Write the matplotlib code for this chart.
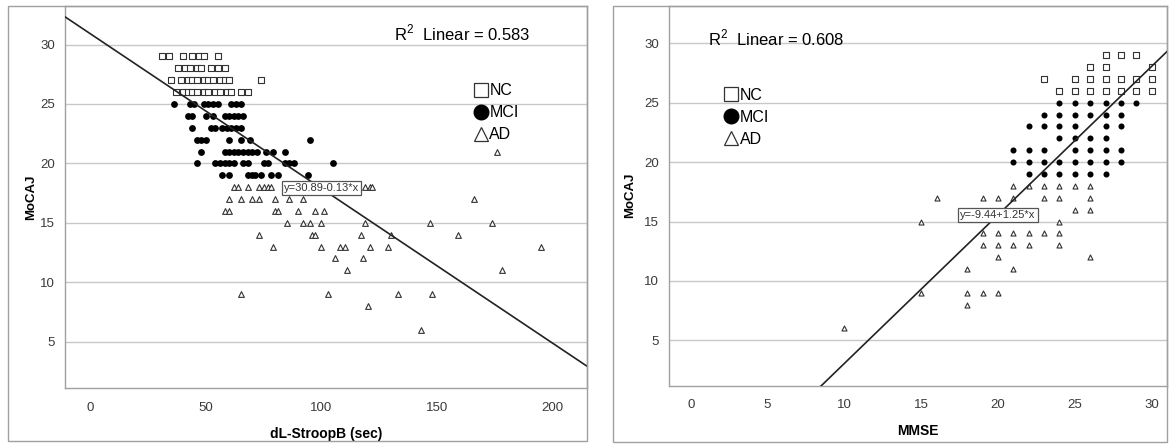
import numpy as np
import matplotlib.pyplot as plt
from matplotlib.lines import Line2D
from matplotlib.patches import Rectangle

plt.rcParams['font.family'] = ['Liberation Sans', 'DejaVu Sans']
plt.rcParams['mathtext.fontset'] = 'custom'
plt.rcParams['mathtext.rm'] = 'Liberation Sans'

W, H = 1169, 445

# MoCAJ score -> dL-StroopB times (sec) of subjects with that score
stroop_nc = {
    29: [31, 34, 40, 44, 47, 49, 55],
    28: [38, 41, 43, 46, 48, 52, 55, 58],
    27: [35, 39, 42, 44, 46, 49, 51, 53, 56, 58, 60, 74],
    26: [37, 40, 42, 44, 46, 49, 51, 54, 56, 59, 61, 65, 68],
}
stroop_mci = {
    25: [36, 43, 45, 49, 51, 53, 55, 61, 63, 65],
    24: [42, 44, 50, 53, 58, 60, 62, 64, 66],
    23: [44, 52, 54, 57, 59, 61, 63, 65],
    22: [46, 48, 50, 60, 65, 69, 95],
    21: [48, 58, 60, 62, 64, 66, 68, 70, 72, 76, 79, 84],
    20: [46, 54, 56, 58, 60, 62, 66, 68, 75, 77, 84, 86, 88, 105],
    19: [57, 60, 68, 70, 71, 74, 78, 81, 94],
}
stroop_ad = {
    21: [176],
    18: [62, 64, 68, 73, 75, 77, 78, 119, 121, 122],
    17: [60, 65, 70, 73, 80, 86, 92, 166],
    16: [58, 60, 80, 81, 90, 97, 101],
    15: [85, 92, 95, 100, 119, 147, 174],
    14: [73, 96, 97, 117, 130, 159],
    13: [79, 100, 108, 110, 121, 129, 195],
    12: [106, 118],
    11: [111, 178],
    9: [65, 103, 133, 148],
    8: [120],
    6: [143],
}

# MoCAJ score -> MMSE scores
mmse_nc = {
    29: [27, 28, 29],
    28: [26, 27, 30],
    27: [23, 25, 26, 27, 28, 29, 30],
    26: [24, 25, 26, 27, 28, 29, 30],
}
mmse_mci = {
    25: [24, 25, 26, 27, 28, 29],
    24: [23, 24, 25, 26, 27, 28],
    23: [22, 23, 24, 25, 27, 28],
    22: [24, 25, 26, 27],
    21: [21, 22, 23, 25, 26, 27, 28],
    20: [21, 22, 23, 24, 25, 26, 27, 28],
    19: [22, 23, 24, 25, 26, 27],
}
mmse_ad = {
    18: [21, 22, 23, 24, 25, 26],
    17: [16, 19, 20, 21, 23, 24, 26],
    16: [25, 26],
    15: [15, 24],
    14: [19, 20, 21, 22, 23, 24],
    13: [19, 20, 21, 22, 24],
    12: [20, 26],
    11: [18, 21],
    9: [15, 18, 19, 20],
    8: [18],
    6: [10],
}

# fitted lines: intercept, slope, R^2
stroop_fit = (30.89, -0.13, 0.583)
mmse_fit = (-9.44, 1.25, 0.608)

groups = ['NC', 'MCI', 'AD']
GRID = '#c8c8c8'
FRAME = '#a0a0a0'
INK = '#222222'


def to_xy(rows):
    xs, ys = [], []
    for score, vals in rows.items():
        xs += vals
        ys += [score] * len(vals)
    return np.array(xs, float), np.array(ys, float)


def px_rect(x0, y0, x1, y1):
    return [x0 / W, 1 - y1 / H, (x1 - x0) / W, (y1 - y0) / H]


def draw_panel(fig, frame, box, xlim, ylim, xticks, data, fit, eq_x,
               r2_xy, leg_xy, xlabel, ylab_px, sizes):
    fig.add_artist(Rectangle((frame[0] / W, 1 - frame[3] / H),
                             (frame[2] - frame[0]) / W, (frame[3] - frame[1]) / H,
                             transform=fig.transFigure, fill=False,
                             ec=FRAME, lw=1.0))
    ax = fig.add_axes(px_rect(*box))
    ax.set_xlim(*xlim)
    ax.set_ylim(*ylim)
    ax.set_xticks(xticks)
    ax.set_yticks([5, 10, 15, 20, 25, 30])
    ax.tick_params(length=0, labelsize=9.5, labelcolor='#3a3a3a')
    ax.tick_params(axis='x', pad=10)
    ax.tick_params(axis='y', pad=7)
    for s in ax.spines.values():
        s.set_color(FRAME)
        s.set_linewidth(1.0)
    ax.grid(axis='y', color=GRID, lw=1.0)
    ax.set_axisbelow(True)

    nc, mci, ad = data
    x, y = to_xy(nc)
    ax.scatter(x, y, marker='s', s=sizes[0], facecolor='white',
               edgecolor='#333333', lw=0.8, zorder=3)
    x, y = to_xy(mci)
    ax.scatter(x, y, marker='o', s=sizes[1], color='black', lw=0, zorder=3)
    x, y = to_xy(ad)
    ax.scatter(x, y, marker='^', s=sizes[2], facecolor='white',
               edgecolor='#333333', lw=0.8, zorder=3)

    a, b, r2 = fit
    lx = np.array(xlim)
    ax.plot(lx, a + b * lx, color=INK, lw=1.2, zorder=4)
    ax.text(eq_x, a + b * eq_x, f'y={a:.2f}{b:+.2f}*x', ha='center',
            va='center', fontsize=8, color='#333333', zorder=5,
            bbox=dict(boxstyle='square,pad=0.18', fc='white', ec='#555555', lw=0.9))
    ax.text(*r2_xy, f'R$^2$  Linear = {r2:.3f}', transform=ax.transAxes,
            ha='left', va='center', fontsize=12, color='black')

    handles = [
        Line2D([], [], ls='none', marker='s', ms=10, mfc='white', mec='#333333', mew=0.9),
        Line2D([], [], ls='none', marker='o', ms=10.5, mfc='black', mec='black'),
        Line2D([], [], ls='none', marker='^', ms=10, mfc='white', mec='#333333', mew=0.9),
    ]
    ax.legend(handles, groups, loc='upper left', bbox_to_anchor=leg_xy,
              frameon=False, fontsize=11.5, handlelength=0.8, handletextpad=0.15,
              labelspacing=0.44, borderpad=0, borderaxespad=0)

    ax.set_xlabel(xlabel, fontsize=10, fontweight='bold', labelpad=9)
    ax.set_ylabel('MoCAJ', fontsize=9.5, fontweight='bold')
    ax.yaxis.set_label_coords((ylab_px - box[0]) / (box[2] - box[0]), 0.5)
    return ax


fig = plt.figure(figsize=(W / 100, H / 100), dpi=100)

draw_panel(fig, (7.5, 6, 587, 441), (64.5, 6, 587, 388.3),
           (-11.3, 215), (1.08, 33.24), [0, 50, 100, 150, 200],
           (stroop_nc, stroop_mci, stroop_ad), stroop_fit, 100,
           (0.63, 0.93), (0.784, 0.798), 'dL-StroopB (sec)', 37, (15, 24, 17))

draw_panel(fig, (612.5, 6, 1167, 441.5), (668.5, 6, 1167, 385.5),
           (-1.45, 31.0), (1.2, 33.14), [0, 5, 10, 15, 20, 25, 30],
           (mmse_nc, mmse_mci, mmse_ad), mmse_fit, 20,
           (0.08, 0.915), (0.113, 0.784), 'MMSE', 636, (15, 19, 13))

fig.savefig('out.png', dpi=100)
